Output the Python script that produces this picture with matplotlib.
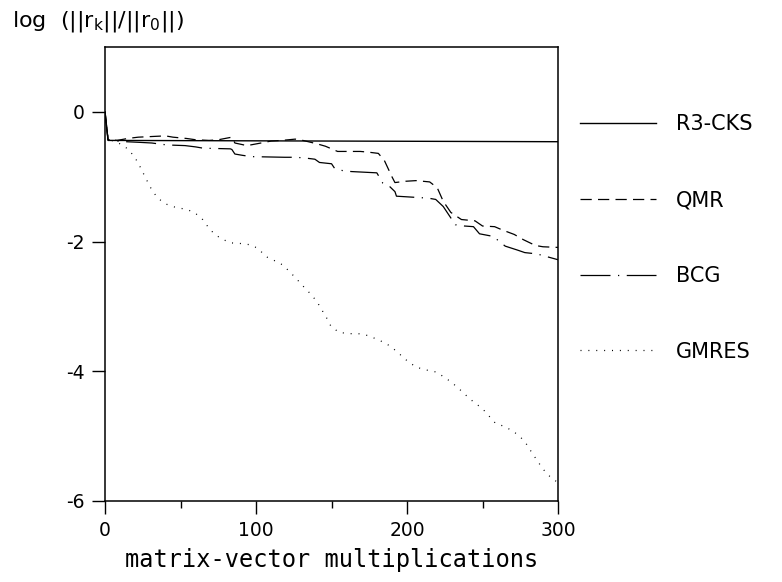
import matplotlib
matplotlib.use("Agg")
import matplotlib.pyplot as plt
from matplotlib.ticker import MultipleLocator

plt.rcParams['font.family'] = ['DejaVu Sans']
plt.rcParams['axes.unicode_minus'] = False

# R3-CKS: drops at once, then flat
r3_x = [0, 2, 300]
r3_y = [0, -0.44, -0.46]

# QMR (dashed)
qmr_x = [0, 2, 8, 15, 22, 31, 40, 45, 54, 60, 69, 75, 84, 86, 94, 101, 110, 117,
         126, 131, 140, 146, 154, 160, 169, 174, 181, 185, 190, 192, 199, 206,
         215, 220, 224, 229, 236, 245, 250, 258, 263, 271, 277, 285, 290, 300]
qmr_y = [0, -0.43, -0.44, -0.41, -0.39, -0.38, -0.37, -0.39, -0.41, -0.43, -0.44,
         -0.43, -0.39, -0.48, -0.52, -0.49, -0.45, -0.44, -0.42, -0.44, -0.49,
         -0.53, -0.61, -0.61, -0.61, -0.62, -0.64, -0.75, -1.00, -1.09, -1.07,
         -1.06, -1.08, -1.17, -1.38, -1.55, -1.66, -1.68, -1.76, -1.77, -1.82,
         -1.89, -1.97, -2.06, -2.08, -2.09]

# BCG (dash-dot)
bcg_x = [0, 2, 8, 14, 23, 31, 41, 53, 60, 65, 83, 84, 86, 91, 97, 119, 126, 132,
         139, 142, 146, 150, 152, 158, 163, 180, 184, 188, 192, 193, 214, 219,
         224, 232, 238, 244, 248, 257, 265, 273, 278, 286, 300]
bcg_y = [0, -0.43, -0.45, -0.46, -0.47, -0.48, -0.51, -0.52, -0.54, -0.56, -0.57,
         -0.58, -0.65, -0.67, -0.69, -0.70, -0.70, -0.71, -0.73, -0.78, -0.79,
         -0.80, -0.87, -0.91, -0.92, -0.94, -1.10, -1.14, -1.23, -1.30, -1.33,
         -1.35, -1.46, -1.74, -1.76, -1.77, -1.88, -1.92, -2.07, -2.13, -2.17,
         -2.19, -2.28]

# GMRES (dotted)
gm_x = [0, 2, 9, 14.4, 18.8, 22, 25, 28, 30.9, 34.9, 40.2, 46.4, 53, 58.5, 64,
        67.8, 72.2, 77.3, 83.4, 89.9, 96.5, 101.6, 106.4, 111.9, 117.7, 122.5,
        127, 131.3, 135.8, 140.2, 143.5, 146.6, 149.7, 155, 161.6, 167.8, 174.4,
        180.4, 186.1, 191.4, 196.3, 201.1, 206.6, 212.8, 219, 224.7, 230, 234.9,
        239.5, 244.4, 249.7, 254.3, 258.5, 264.3, 270, 275, 279.3, 282.8, 286.3,
        290.1, 294.5, 300]
gm_y = [0, -0.42, -0.48, -0.56, -0.67, -0.79, -0.93, -1.07, -1.20, -1.33, -1.42,
        -1.47, -1.50, -1.54, -1.64, -1.76, -1.88, -1.96, -2.02, -2.03, -2.05,
        -2.11, -2.23, -2.29, -2.36, -2.47, -2.58, -2.69, -2.80, -2.92, -3.05,
        -3.17, -3.31, -3.40, -3.42, -3.42, -3.45, -3.51, -3.57, -3.66, -3.76,
        -3.86, -3.94, -3.98, -4.01, -4.09, -4.18, -4.28, -4.38, -4.48, -4.57,
        -4.69, -4.80, -4.85, -4.92, -5.01, -5.13, -5.26, -5.38, -5.51, -5.62,
        -5.72]

fig = plt.figure(figsize=(7.82, 5.82), dpi=100)
ax = fig.add_axes([0.1343, 0.1392, 0.5793, 0.78])

ax.plot(r3_x, r3_y, color='black', lw=1.0, label='R3-CKS')
ax.plot(qmr_x, qmr_y, color='black', lw=0.9, linestyle=(0, (9, 5)), label='QMR')
ax.plot(bcg_x, bcg_y, color='black', lw=0.9,
        linestyle=(0, (24, 6, 1, 6)), label='BCG')
ax.plot(gm_x, gm_y, color='black', lw=0.9, linestyle=(0, (0.8, 5.5)), label='GMRES')

ax.set_xlim(0, 300)
ax.set_ylim(-6, 1)
ax.set_xticks([0, 100, 200, 300])
ax.xaxis.set_minor_locator(MultipleLocator(50))
ax.set_yticks([0, -2, -4, -6])
ax.tick_params(axis='both', which='major', direction='out', length=9.5,
               width=1.0, labelsize=13.5, pad=5)
ax.tick_params(axis='x', which='minor', direction='out', length=5, width=1.0)
for s in ax.spines.values():
    s.set_linewidth(1.1)

ax.set_xlabel('matrix-vector multiplications', fontsize=17, labelpad=6,
              family='DejaVu Sans Mono')
fig.text(0.015, 0.985, r'log  (||r$_\mathregular{k}$||/||r$_\mathregular{0}$||)',
         fontsize=16, ha='left', va='top')

ax.legend(loc='upper left', bbox_to_anchor=(1.0486, 0.852), frameon=False,
          fontsize=15, handlelength=3.65, handletextpad=0.95, labelspacing=2.68,
          borderpad=0, borderaxespad=0)

fig.savefig('out.png', dpi=100)
